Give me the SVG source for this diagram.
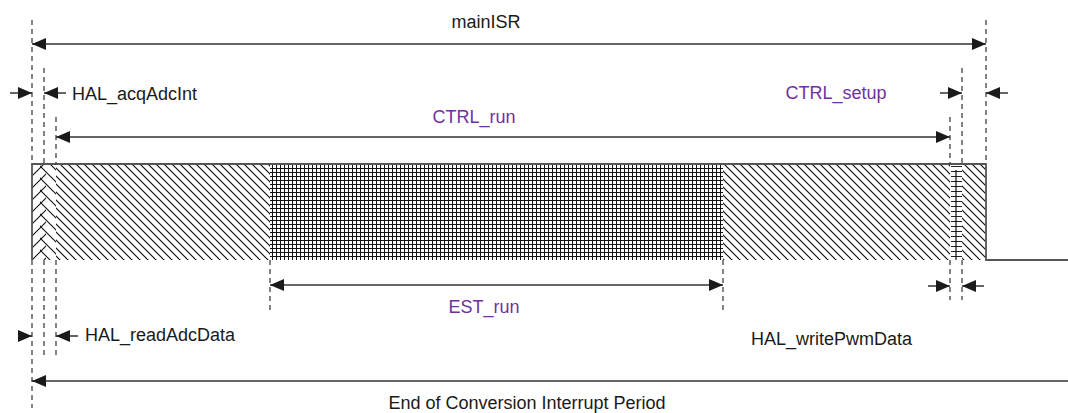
<svg xmlns="http://www.w3.org/2000/svg" width="1068" height="413" viewBox="0 0 1068 413">
<style>
.t{font-family:"Liberation Sans",Arial,sans-serif;font-size:18px;fill:#1a1a1a}
.p{fill:#7030a0}
.d{stroke:#333;stroke-width:1.2;stroke-dasharray:5 4;fill:none}
.a{stroke:#333;stroke-width:1.5;fill:none}
.e{stroke:#555;stroke-width:1.8;fill:none}
</style>
<defs>
<marker id="ah" viewBox="0 0 14 12" refX="14" refY="6" markerWidth="14" markerHeight="12" markerUnits="userSpaceOnUse" orient="auto-start-reverse">
<path d="M0 0L14 6L0 12Z" fill="#1a1a1a"/>
</marker>
<pattern id="bs" patternUnits="userSpaceOnUse" width="8" height="8">
<path d="M-1 -1L9 9M-1 7L1 9M7 -1L9 1" stroke="#111" stroke-width="1.2"/>
</pattern>
<pattern id="fs" patternUnits="userSpaceOnUse" width="12" height="12" x="32" y="164">
<path d="M-1 13L13 -1M-1 1L1 -1M11 13L13 11" stroke="#111" stroke-width="1.1"/>
</pattern>
<pattern id="bs2" patternUnits="userSpaceOnUse" width="12" height="12" x="38" y="164">
<path d="M-1 -1L13 13M-1 11L1 13M11 -1L13 1" stroke="#111" stroke-width="1.1"/>
</pattern>
<pattern id="grid" patternUnits="userSpaceOnUse" width="4" height="4">
<path d="M0 0.5H4M0.5 0V4" stroke="#111" stroke-width="1"/>
</pattern>
<pattern id="lad" patternUnits="userSpaceOnUse" width="12" height="5" x="950" y="164">
<path d="M1 2.5H12" stroke="#222" stroke-width="1"/>
</pattern>
</defs>
<rect width="1068" height="413" fill="#fff"/>

<g id="hal-acq-adc-int">
<rect x="32" y="164" width="14" height="96" fill="url(#fs)"/>
</g>
<g id="hal-read-adc-data">
<rect x="40" y="164" width="16" height="96" fill="url(#bs2)"/>
</g>
<g id="ctrl-run-pre">
<rect x="56" y="164" width="214" height="96" fill="url(#bs)"/>
</g>
<g id="est-run">
<rect x="270" y="164" width="453" height="96" fill="url(#grid)"/>
</g>
<g id="ctrl-run-post">
<rect x="723" y="164" width="227" height="96" fill="url(#bs)"/>
</g>
<g id="hal-write-pwm-data">
<rect x="950" y="164" width="12" height="96" fill="url(#lad)"/>
<line x1="956" y1="170" x2="956" y2="260" stroke="#111" stroke-width="1.2"/>
</g>
<g id="ctrl-setup">
<rect x="962" y="164" width="24" height="96" fill="url(#bs)"/>
</g>
<g id="outline">
<path class="e" d="M32 260V164H986V260H1068"/>
</g>

<g id="guides">
<path class="d" d="M32 20V164M32 260V408"/>
<path class="d" d="M44 68V164M44 260V357"/>
<path class="d" d="M56 117V164M56 260V357"/>
<path class="d" d="M270 260V310"/>
<path class="d" d="M723 260V310"/>
<path class="d" d="M950 117V164M950 260V300"/>
<path class="d" d="M962 68V164M962 260V300"/>
<path class="d" d="M986 20V164"/>
</g>

<g id="connectors">
<line class="a" x1="32" y1="44" x2="986" y2="44" marker-start="url(#ah)" marker-end="url(#ah)"/>
<line class="a" x1="10" y1="93" x2="32" y2="93" marker-end="url(#ah)"/>
<line class="a" x1="66" y1="93" x2="44" y2="93" marker-end="url(#ah)"/>
<line class="a" x1="56" y1="137" x2="950" y2="137" marker-start="url(#ah)" marker-end="url(#ah)"/>
<line class="a" x1="940" y1="93" x2="962" y2="93" marker-end="url(#ah)"/>
<line class="a" x1="1008" y1="93" x2="986" y2="93" marker-end="url(#ah)"/>
<line class="a" x1="270" y1="285" x2="723" y2="285" marker-start="url(#ah)" marker-end="url(#ah)"/>
<line class="a" x1="928" y1="286" x2="950" y2="286" marker-end="url(#ah)"/>
<line class="a" x1="984" y1="286" x2="962" y2="286" marker-end="url(#ah)"/>
<line class="a" x1="20" y1="336" x2="32" y2="336" marker-end="url(#ah)"/>
<line class="a" x1="78" y1="336" x2="56" y2="336" marker-end="url(#ah)"/>
<line class="a" x1="1068" y1="381" x2="32" y2="381" marker-end="url(#ah)"/>
</g>

<g id="labels">
<text class="t" x="486" y="28" text-anchor="middle">mainISR</text>
<text class="t" x="72" y="100">HAL_acqAdcInt</text>
<text class="t p" x="474" y="123" text-anchor="middle">CTRL_run</text>
<text class="t p" x="836" y="99" text-anchor="middle">CTRL_setup</text>
<text class="t p" x="484" y="313" text-anchor="middle">EST_run</text>
<text class="t" x="751" y="345">HAL_writePwmData</text>
<text class="t" x="85" y="341">HAL_readAdcData</text>
<text class="t" x="527" y="409" text-anchor="middle">End of Conversion Interrupt Period</text>
</g>
</svg>
